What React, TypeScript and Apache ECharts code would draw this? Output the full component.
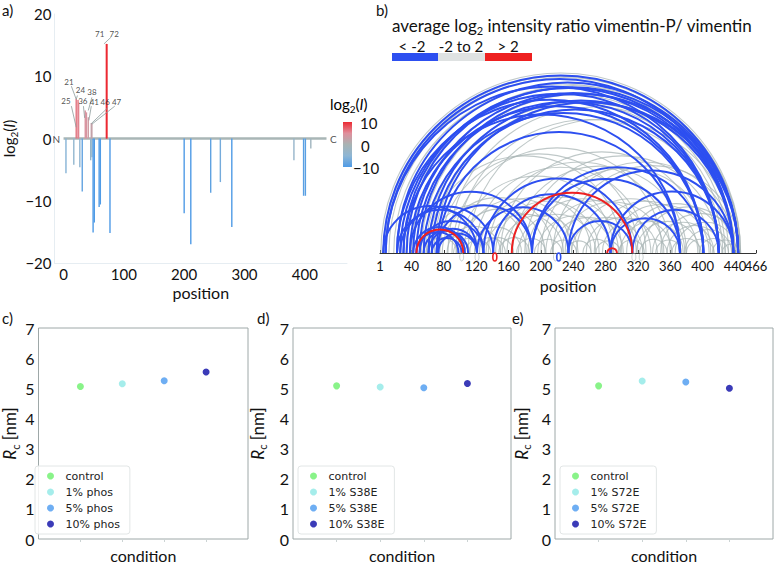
import React, { useEffect, useRef } from 'react';
import * as echarts from 'echarts';

const FONT = 'Lato';

// ---------- panel a ----------
const xTicksA = [0, 100, 200, 300, 400];
const negPositions = [4, 17, 27, 31, 45, 47, 49, 51, 59, 61, 77, 200, 211, 244, 260, 279, 382, 398, 401, 410];
const negValues = [-5.6, -4.2, -4.6, -8.5, -3.5, -3.0, -15.1, -13.5, -11.0, -10.6, -15.2, -12.0, -17.0, -8.7, -7.0, -14.2, -3.5, -9.2, -9.2, -1.6];
const posPositions = [21, 24, 25, 36, 38, 41, 46, 47, 71, 72];
const posValues = [6.4, 6.2, 5.6, 4.5, 4.2, 3.4, 2.5, 2.4, 15.2, 15.2];
const annoNames = ['71', '72', '21', '24', '25', '36', '38', '41', '46', '47'];
const annoX = [60, 84, 9, 28, 4, 32, 47, 51, 69, 88];
const annoY = [16.8, 16.8, 9.1, 7.8, 6.0, 6.1, 7.5, 5.9, 5.9, 5.9];
const leaderFrom = [[67, 15.2], [13, 8.4], [13, 5.2], [23, 6.9], [33, 5.2], [47, 6.6], [46, 5.2], [74, 5.0], [85, 5.2]];
const leaderTo = [[79, 16.3], [21, 6.3], [21, 1.8], [21, 6.3], [35, 3.3], [41, 4.5], [42, 2.9], [46, 2.4], [47, 2.3]];
const baseline = [[0, 0], [436, 0]];

// ---------- panel b ----------
const xTicksB = [1, 40, 80, 120, 160, 200, 240, 280, 320, 360, 400, 440, 466];
const xLabelsB = [1, 40, 80, 120, 160, 200, 240, 280, 320, 360, 400, 440];
const xLabelsBEnd = [466];
const grayArcs = [
  [2, 447], [6, 443], [12, 446], [18, 436], [33, 447], [40, 432], [52, 445], [58, 428], [68, 440], [85, 446], [95, 425], [110, 440],
  [60, 300], [75, 320], [90, 350], [100, 290], [118, 330], [135, 360], [150, 400], [165, 380], [180, 420], [200, 410], [215, 440], [230, 446],
  [62, 182], [78, 215], [84, 150], [96, 205], [104, 238], [112, 176], [124, 262], [132, 228], [144, 272], [152, 246], [158, 296],
  [172, 268], [184, 318], [196, 288], [206, 336], [214, 302], [226, 352], [238, 326], [244, 378], [256, 344], [266, 394],
  [276, 362], [288, 408], [298, 376], [306, 428], [318, 396], [326, 440], [338, 414], [348, 446], [356, 424], [366, 442], [378, 436],
  [58, 96], [72, 112], [92, 128], [106, 138], [118, 156], [128, 166], [148, 186], [170, 206], [192, 226], [212, 244],
  [232, 262], [252, 286], [268, 298], [296, 328], [322, 356], [342, 374], [362, 398], [380, 414], [396, 432], [412, 444], [424, 446],
];
const blueArcs = [
  [5, 444], [8, 438], [22, 444], [26, 420], [30, 438], [34, 444], [38, 401], [42, 438], [46, 420], [50, 444], [55, 401],
  [61, 438], [65, 420], [71, 444], [73, 372], [22, 401], [8, 420], [30, 372],
  [5, 121], [22, 129], [26, 141], [38, 189], [50, 129], [61, 121], [73, 121], [42, 106], [46, 98], [55, 110], [65, 102],
  [71, 189], [121, 234], [129, 313], [189, 372], [234, 313], [286, 372], [141, 286], [189, 401], [234, 438], [286, 438], [313, 420],
];
const redArcs = [[46, 104], [164, 313], [282, 294]];
const grayLoops = [102, 121, 218, 315, 324];
const blueLoops = [222];
const redLoops = [143];

// ---------- panels c, d, e ----------
const conditionX = [1, 2, 3, 4];
const condColors = ['#6cf06c', '#8ee8e6', '#4a9af0', '#0a0aa6'];
const namesC = ['control', '1% phos', '5% phos', '10% phos'];
const namesD = ['control', '1% S38E', '5% S38E', '10% S38E'];
const namesE = ['control', '1% S72E', '5% S72E', '10% S72E'];
const rcC = [5.06, 5.15, 5.25, 5.54];
const rcD = [5.08, 5.04, 5.02, 5.16];
const rcE = [5.08, 5.24, 5.21, 5.0];
const yTicksR = [0, 1, 2, 3, 4, 5, 6, 7];

const GRAY = 'rgba(170,182,182,0.75)';
const BLUE = '#2d4ff0';
const RED = '#ee2020';

function arcSeries(data: number[][], color: string, width: number) {
  return {
    type: 'custom',
    xAxisIndex: 1,
    yAxisIndex: 1,
    clip: false,
    encode: { x: [0, 1] },
    data,
    renderItem: (params: any, api: any) => {
      const p1 = api.coord([api.value(0), 0]);
      const p2 = api.coord([api.value(1), 0]);
      return {
        type: 'arc',
        shape: { cx: (p1[0] + p2[0]) / 2, cy: p1[1], r: Math.abs(p2[0] - p1[0]) / 2, startAngle: Math.PI, endAngle: Math.PI * 2, clockwise: true },
        style: { stroke: color, fill: 'none', lineWidth: width },
      };
    },
  };
}

function loopSeries(data: number[], color: string, width: number) {
  return {
    type: 'custom',
    xAxisIndex: 1,
    yAxisIndex: 1,
    clip: false,
    encode: { x: 0 },
    data: data.map((d) => [d]),
    renderItem: (params: any, api: any) => {
      const p = api.coord([api.value(0), 0]);
      return {
        type: 'ellipse',
        shape: { cx: p[0], cy: p[1] + 4, rx: 2, ry: 4 },
        style: { stroke: color, fill: 'none', lineWidth: width },
      };
    },
  };
}

const richLog = {
  a: { fontFamily: FONT, fontSize: 15, color: '#111', lineHeight: 20 },
  i: { fontFamily: FONT, fontSize: 15, color: '#111', fontStyle: 'italic', lineHeight: 20 },
  s: { fontFamily: FONT, fontSize: 10, color: '#111', verticalAlign: 'bottom', lineHeight: 11 },
};

function rcPanel(idx: number, left: number, names: string[], vals: number[], nameGap: number) {
  const grid = { left, top: 328, width: 218, height: 212, show: true, borderColor: '#9ea8a8', borderWidth: 1, backgroundColor: 'transparent' };
  const xAxis = {
    gridIndex: idx, type: 'value', min: 0, max: 5,
    name: 'condition', nameLocation: 'middle', nameGap: 8,
    nameTextStyle: { fontFamily: FONT, fontSize: 16, color: '#111' },
    axisLine: { show: false }, splitLine: { show: false }, axisLabel: { show: false },
    axisTick: { show: true, customValues: conditionX, length: 3, lineStyle: { color: '#ccd4d4' } },
  };
  const yAxis = {
    gridIndex: idx, type: 'value', min: 0, max: 7, interval: 1,
    name: '{i|R}{s|c} [nm]', nameLocation: 'middle', nameGap,
    nameTextStyle: {
      rich: {
        i: { fontFamily: FONT, fontSize: 17, fontStyle: 'italic', color: '#111', lineHeight: 22 },
        s: { fontFamily: FONT, fontSize: 11, color: '#111', verticalAlign: 'bottom', lineHeight: 12 },
      },
      fontFamily: FONT, fontSize: 17, color: '#111',
    },
    axisLine: { show: false }, splitLine: { show: false }, axisTick: { show: false },
    axisLabel: { fontFamily: FONT, fontSize: 16, color: '#111', margin: 4, customValues: yTicksR },
  };
  const series = names.map((n, k) => ({
    type: 'scatter', name: n, xAxisIndex: idx, yAxisIndex: idx,
    data: [[conditionX[k], vals[k]]], symbolSize: 7,
    itemStyle: { color: condColors[k] },
  }));
  const legend = {
    data: names, orient: 'vertical', left: left + 5, top: 466,
    icon: 'circle', itemWidth: 8, itemHeight: 7, itemGap: 2,
    padding: [3, 10, 3, 12], borderColor: '#e2e6e6', borderWidth: 1, borderRadius: 3,
    backgroundColor: 'rgba(255,255,255,0.85)',
    textStyle: { fontFamily: 'DejaVu Sans', fontSize: 11, color: '#222', lineHeight: 14, padding: [0, 0, 0, 6] },
    selectedMode: false,
  };
  return { grid, xAxis, yAxis, series, legend };
}

export default function App() {
  const ref = useRef<HTMLDivElement>(null);
  useEffect(() => {
    if (!ref.current) return;
    const chart = echarts.init(ref.current, undefined, { renderer: 'svg' });
    const c = rcPanel(2, 30, namesC, rcC, 18);
    const d = rcPanel(3, 293, namesD, rcD, 25);
    const e = rcPanel(4, 555, namesE, rcE, 23);

    const option: any = {
      animation: false,
      backgroundColor: '#fff',
      textStyle: { fontFamily: FONT },
      grid: [
        { left: 51, top: 14, width: 296, height: 249 },
        { left: 380, top: 60, width: 376, height: 193 },
        c.grid, d.grid, e.grid,
      ],
      xAxis: [
        {
          gridIndex: 0, type: 'value', min: -15, max: 470,
          name: 'position', nameLocation: 'middle', nameGap: 21,
          nameTextStyle: { fontFamily: FONT, fontSize: 16, color: '#111' },
          axisLine: { show: true, onZero: false, lineStyle: { color: '#e6edf2' } },
          axisTick: { show: false }, splitLine: { show: false },
          axisLabel: { fontFamily: FONT, fontSize: 15, color: '#111', margin: 3, customValues: xTicksA },
        },
        {
          gridIndex: 1, type: 'value', min: 1, max: 466, position: 'bottom',
          name: 'position', nameLocation: 'middle', nameGap: 24,
          nameTextStyle: { fontFamily: FONT, fontSize: 16, color: '#111' },
          axisLine: { show: true, onZero: false, lineStyle: { color: '#333', width: 1 } },
          axisTick: { show: true, inside: true, length: 3, customValues: xTicksB, lineStyle: { color: '#333' } },
          splitLine: { show: false },
          axisLabel: {
            fontFamily: FONT, fontSize: 13, color: '#111', margin: 6, customValues: xLabelsB,
            interval: 0, hideOverlap: false,
          },
        },
        c.xAxis, d.xAxis, e.xAxis,
        {
          gridIndex: 1, type: 'value', min: 1, max: 466, position: 'bottom', offset: 0,
          axisLine: { show: false, onZero: false }, axisTick: { show: false }, splitLine: { show: false },
          axisLabel: { fontFamily: FONT, fontSize: 13, color: '#111', margin: 6, customValues: xLabelsBEnd },
        },
      ],
      yAxis: [
        {
          gridIndex: 0, type: 'value', min: -20, max: 20, interval: 10,
          name: '{a|log}{s|2}{a|(}{i|I}{a|)}', nameLocation: 'middle', nameGap: 36,
          nameTextStyle: { rich: richLog },
          axisLine: { show: true, onZero: false, lineStyle: { color: '#e6edf2' } },
          axisTick: { show: false }, splitLine: { show: false },
          axisLabel: { fontFamily: FONT, fontSize: 15, color: '#111', margin: 3,
            formatter: (v: number) => (v < 0 ? '\u2212' + Math.abs(v) : String(v)) },
        },
        { gridIndex: 1, type: 'value', min: 0, max: 1, show: false },
        c.yAxis, d.yAxis, e.yAxis,
      ],
      visualMap: [{
        type: 'continuous', show: false, seriesIndex: [1, 2], dimension: 1, min: -10, max: 10,
        inRange: { color: ['#4f9be6', '#8eb6d4', '#a8b3b3', '#e08f9c', '#ec2a33'] },
      }],
      legend: [c.legend, d.legend, e.legend],
      series: [
        {
          type: 'line', xAxisIndex: 0, yAxisIndex: 0, data: baseline, symbol: 'none',
          lineStyle: { color: '#a9b6b6', width: 2.5 }, z: 1,
        },
        {
          type: 'bar', xAxisIndex: 0, yAxisIndex: 0, barWidth: 1.4, barGap: '-100%',
          data: negPositions.map((p, i) => [p, negValues[i]]), z: 2,
        },
        {
          type: 'bar', xAxisIndex: 0, yAxisIndex: 0, barWidth: 1.4, barGap: '-100%',
          data: posPositions.map((p, i) => [p, posValues[i]]), z: 2,
          markLine: {
            silent: true, symbol: 'none', animation: false,
            lineStyle: { color: '#8c9c9c', width: 0.8, type: 'solid' },
            label: { show: false },
            data: leaderFrom.map((f, i) => [{ coord: f }, { coord: leaderTo[i] }]),
          },
        },
        {
          type: 'scatter', xAxisIndex: 0, yAxisIndex: 0, symbolSize: 1,
          itemStyle: { color: 'rgba(0,0,0,0)' },
          data: annoNames.map((n, i) => ({ name: n, value: [annoX[i], annoY[i]] })),
          label: { show: true, position: 'inside', formatter: '{b}', fontFamily: FONT, fontSize: 8, color: '#222' },
          labelLayout: { hideOverlap: false },
          z: 5,
        },
        {
          type: 'scatter', xAxisIndex: 0, yAxisIndex: 0, symbolSize: 1,
          itemStyle: { color: 'rgba(0,0,0,0)' },
          data: [
            { name: 'N', value: baseline[0], label: { position: 'left', distance: 3 } },
            { name: 'C', value: baseline[1], label: { position: 'right', distance: 3 } },
          ],
          label: { show: true, formatter: '{b}', fontFamily: FONT, fontSize: 10, color: '#222' },
          z: 5,
        },
        arcSeries(grayArcs, GRAY, 1.1),
        arcSeries(blueArcs, BLUE, 2),
        arcSeries(redArcs, RED, 2),
        loopSeries(grayLoops, 'rgba(170,182,182,0.6)', 1),
        loopSeries(blueLoops, BLUE, 1.6),
        loopSeries(redLoops, RED, 1.6),
        ...c.series, ...d.series, ...e.series,
      ],
      graphic: [
        { type: 'text', left: 2, top: 2, style: { text: 'a)', fontFamily: FONT, fontSize: 15, fill: '#111' } },
        { type: 'text', left: 376, top: 2, style: { text: 'b)', fontFamily: FONT, fontSize: 15, fill: '#111' } },
        { type: 'text', left: 2, top: 310, style: { text: 'c)', fontFamily: FONT, fontSize: 15, fill: '#111' } },
        { type: 'text', left: 257, top: 310, style: { text: 'd)', fontFamily: FONT, fontSize: 15, fill: '#111' } },
        { type: 'text', left: 512, top: 310, style: { text: 'e)', fontFamily: FONT, fontSize: 15, fill: '#111' } },
        // colorbar of panel a
        {
          type: 'text', left: 330, top: 96,
          style: { text: '{a|log}{s|2}{a|(}{i|I}{a|)}', rich: richLog },
        },
        {
          type: 'rect', shape: { x: 343, y: 122, width: 9, height: 45 },
          style: {
            fill: new echarts.graphic.LinearGradient(0, 0, 0, 1, [
              { offset: 0, color: '#ec2a33' }, { offset: 0.25, color: '#e08f9c' },
              { offset: 0.5, color: '#a8b3b3' }, { offset: 0.75, color: '#8eb6d4' }, { offset: 1, color: '#4f9be6' },
            ]),
          },
        },
        { type: 'text', x: 360, y: 123, style: { text: '10', fontFamily: FONT, fontSize: 15, fill: '#111', verticalAlign: 'middle' } },
        { type: 'text', x: 361, y: 146, style: { text: '0', fontFamily: FONT, fontSize: 15, fill: '#111', verticalAlign: 'middle' } },
        { type: 'text', x: 353, y: 168, style: { text: '\u221210', fontFamily: FONT, fontSize: 15, fill: '#111', verticalAlign: 'middle' } },
        // header legend of panel b
        {
          type: 'text', x: 392, y: 25,
          style: {
            text: '{a|average log}{s|2}{a| intensity ratio vimentin-P/ vimentin}',
            verticalAlign: 'middle',
            rich: {
              a: { fontFamily: FONT, fontSize: 17, fill: '#111', lineHeight: 22 },
              s: { fontFamily: FONT, fontSize: 11, fill: '#111', verticalAlign: 'bottom', lineHeight: 12 },
            },
          },
        },
        { type: 'text', x: 412, y: 46, style: { text: '< -2', fontFamily: FONT, fontSize: 15, fill: '#111', align: 'center', verticalAlign: 'middle' } },
        { type: 'text', x: 461, y: 46, style: { text: '-2 to 2', fontFamily: FONT, fontSize: 15, fill: '#111', align: 'center', verticalAlign: 'middle' } },
        { type: 'text', x: 508, y: 46, style: { text: '> 2', fontFamily: FONT, fontSize: 15, fill: '#111', align: 'center', verticalAlign: 'middle' } },
        { type: 'rect', shape: { x: 392, y: 53, width: 46, height: 8 }, style: { fill: '#2d4ff0' } },
        { type: 'rect', shape: { x: 438, y: 53, width: 47, height: 8 }, style: { fill: '#dfe2e2' } },
        { type: 'rect', shape: { x: 485, y: 53, width: 47, height: 8 }, style: { fill: '#ee2020' } },
      ],
    };
    chart.setOption(option);
    return () => chart.dispose();
  }, []);
  return <div ref={ref} style={{ position: 'absolute', left: 0, top: 0, width: 775, height: 564 }} />;
}
